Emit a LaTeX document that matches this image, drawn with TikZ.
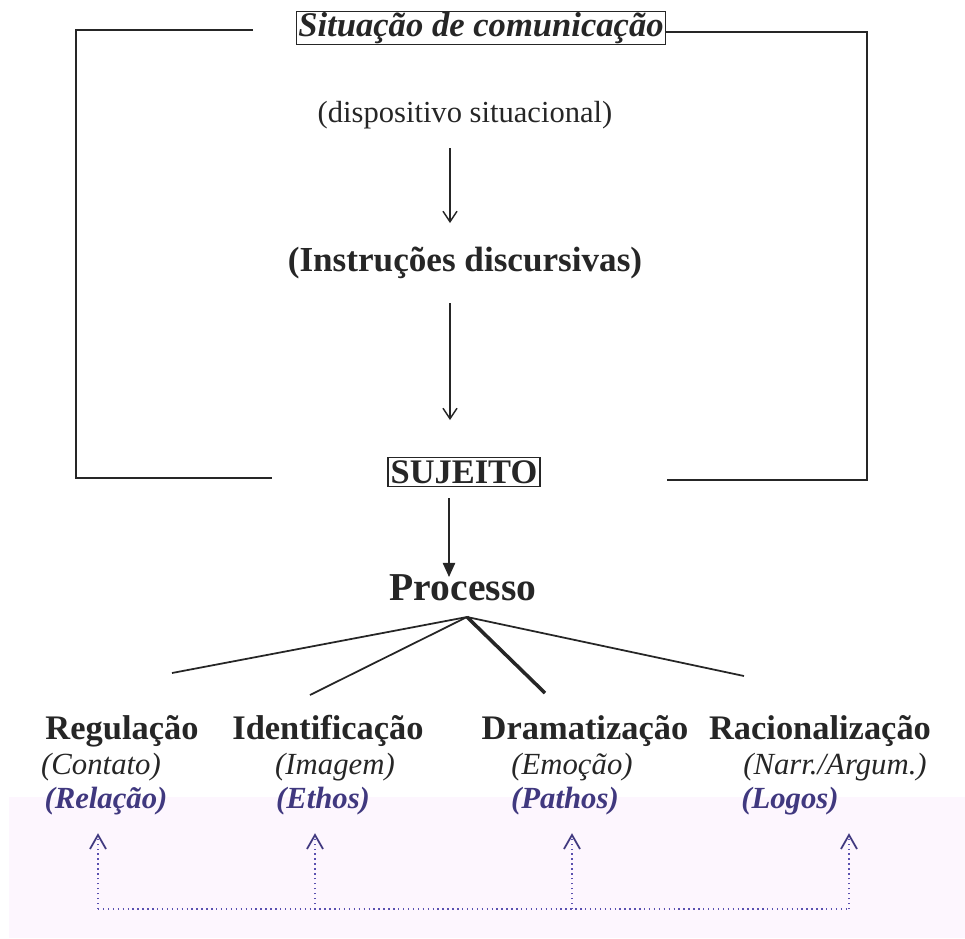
\documentclass[tikz,border=0pt]{standalone}
\usepackage{fontspec}
\setmainfont{Liberation Serif}
\usetikzlibrary{calc,arrows.meta}
\definecolor{ink}{HTML}{262626}
\definecolor{violeta}{HTML}{40387F}
\definecolor{pontilhado}{HTML}{5A50B0}
\definecolor{rosa}{HTML}{FDF6FE}

\begin{document}
\begin{tikzpicture}[x=0.02cm, y=-0.02cm,
  titulo/.style={text=ink, draw=ink, line width=0.6pt, inner xsep=1pt, inner ysep=0.5pt, font=\fontsize{19.7}{22}\selectfont\bfseries\itshape},
  texto/.style={text=ink, inner sep=0pt, font=\fontsize{17.4}{20}\selectfont},
  negrito/.style={text=ink, inner sep=0pt, font=\fontsize{19.6}{22}\selectfont\bfseries},
  sub/.style={text=ink, inner sep=0pt, font=\fontsize{17.5}{20}\selectfont\itshape},
  polo/.style={text=violeta, inner sep=0pt, font=\fontsize{17.5}{20}\selectfont\bfseries\itshape},
  moldura/.style={draw=ink, line width=1pt},
  seta/.style={draw=ink, line width=0.8pt, -{Straight Barb[length=6pt,width=8pt]}},
  ponto/.style={draw=pontilhado, dotted, line width=0.8pt},
  ponta/.style={draw=violeta, line width=1pt}]
  \useasboundingbox (0,0) rectangle (965,938);
  \fill[rosa] (9,797) rectangle (965,938);

  % situacao e frame
  \node[titulo] (sit) at (481,28) {Situação de comunicação};
  \draw[moldura] (253,30) -- (76,30) -- (76,478) -- (272,478);
  \draw[moldura] (sit.east |- 0,32) -- (867,32) -- (867,480) -- (667,480);

  \node[texto] (disp) at (465,115) {(dispositivo situacional)};
  \node[negrito, font=\fontsize{20}{22}\selectfont\bfseries] (instr) at (465,263) {(Instruções discursivas)};
  \node[negrito, draw=ink, line width=0.6pt, inner sep=1.5pt] (suj) at (464,472) {SUJEITO};
  \node[negrito, font=\fontsize{22.5}{25}\selectfont\bfseries] (proc) at (463,588) {Processo};

  \coordinate (a1) at (450,148); \coordinate (b1) at (450,223);
  \coordinate (a2) at (450,303); \coordinate (b2) at (450,420);
  \coordinate (a3) at (449,498); \coordinate (b3) at (449,577);
  \draw[seta] (a1) -- (b1);
  \draw[seta] (a2) -- (b2);
  \draw[draw=ink, line width=0.8pt, -{Triangle[length=8pt,width=7pt]}] (a3) -- (b3);

  % ramos do processo
  \coordinate (topo) at (467,617);
  \coordinate (r1) at (172,673); \coordinate (r2) at (310,695);
  \coordinate (r3) at (545,693); \coordinate (r4) at (744,676);
  \draw[moldura] (r1) -- (topo) -- (r4);
  \draw[moldura] (r2) -- (topo);
  \draw[draw=ink, line width=2pt] (topo) -- (r3);

  \node[negrito] (reg) at (122,731) {Regulação};
  \node[negrito] (ident) at (328,731) {Identificação};
  \node[negrito] (dram) at (585,731) {Dramatização};
  \node[negrito] (racio) at (820,731) {Racionalização};

  \node[sub] (cont) at (101,767) {(Contato)};
  \node[sub] (imag) at (335,767) {(Imagem)};
  \node[sub] (emoc) at (572,767) {(Emoção)};
  \node[sub] (narr) at (835,767) {(Narr./Argum.)};

  \node[polo] (rel) at (106,801) {(Relação)};
  \node[polo] (ethos) at (323,801) {(Ethos)};
  \node[polo] (pathos) at (565,801) {(Pathos)};
  \node[polo] (logos) at (790,801) {(Logos)};

  % setas pontilhadas
  \coordinate (p1) at (98,909); \coordinate (p2) at (315,909);
  \coordinate (p3) at (572,909); \coordinate (p4) at (849,909);
  \coordinate (q1) at (98,835); \coordinate (q2) at (315,835);
  \coordinate (q3) at (572,835); \coordinate (q4) at (849,835);
  \draw[ponto] (p1) -- (p4);
  \draw[ponto] (p1) -- (q1);
  \draw[ponto] (p2) -- (q2);
  \draw[ponto] (p3) -- (q3);
  \draw[ponto] (p4) -- (q4);
  \draw[ponta] ($(q1)+(-8,14)$) -- (q1) -- ($(q1)+(8,14)$);
  \draw[ponta] ($(q2)+(-8,14)$) -- (q2) -- ($(q2)+(8,14)$);
  \draw[ponta] ($(q3)+(-8,14)$) -- (q3) -- ($(q3)+(8,14)$);
  \draw[ponta] ($(q4)+(-8,14)$) -- (q4) -- ($(q4)+(8,14)$);
\end{tikzpicture}
\end{document}
